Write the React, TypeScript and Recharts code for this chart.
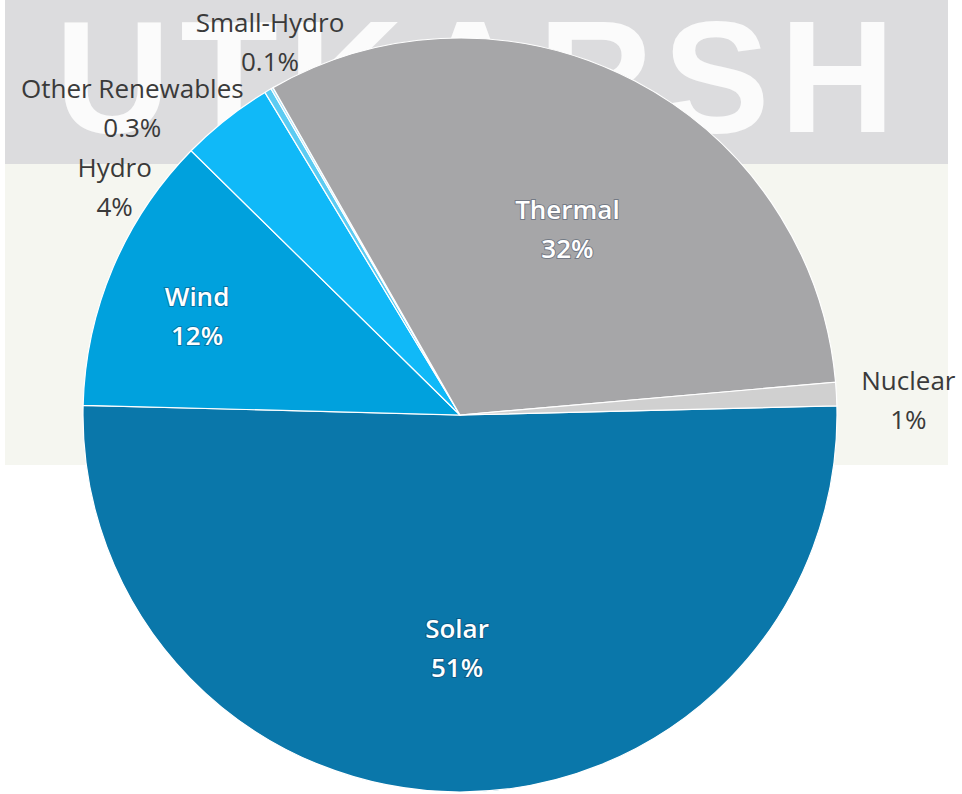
import React from "react";
import { PieChart, Pie, Cell } from "recharts";

const categories = ["Solar", "Wind", "Hydro", "Other Renewables", "Small-Hydro", "Thermal", "Nuclear"];
const shares = [51, 12, 4, 0.3, 0.1, 32, 1];
const colors = ["#0a77aa", "#00a1dd", "#10b9f8", "#5ccbf2", "#a8e2f8", "#a6a6a8", "#d0d0d0"];
const insideLabels = ["Solar", "Wind", "Thermal"];

const data = categories.map((name, i) => ({ name, value: shares[i] }));

// label placement relative to the slice's mid angle: angle delta (deg) and radius factor
const labelPlacement: Record<string, { da: number; k: number }> = {
  Solar: { da: -0.7, k: 0.618 },
  Wind: { da: 2.4, k: 0.745 },
  Hydro: { da: 18.2, k: 1.098 },
  "Other Renewables": { da: 16.3, k: 1.19 },
  "Small-Hydro": { da: -2.9, k: 1.11 },
  Thermal: { da: -2.35, k: 0.57 },
  Nuclear: { da: -1.3, k: 1.19 },
};

const RAD = Math.PI / 180;
const FONT = "'Open Sans', 'Noto Sans', sans-serif";

const renderLabel = (props: any) => {
  const { cx, cy, midAngle, outerRadius } = props;
  const name: string = props.name ?? props.payload?.name;
  const value: number = props.value ?? props.payload?.value;
  const p = labelPlacement[name] || { da: 0, k: 1.1 };
  const ang = (midAngle + p.da) * RAD;
  const r = outerRadius * p.k;
  const x = cx + Math.cos(-ang) * r;
  const y = cy + Math.sin(-ang) * r;
  const inside = insideLabels.includes(name);
  const spacing = 39;
  const b1 = y - spacing / 2 + 9.3;
  const common: any = {
    textAnchor: "middle",
    fontFamily: FONT,
    fontSize: 26,
    fill: inside ? "#ffffff" : "#3a3a3a",
    fontWeight: inside ? 600 : 400,
  };
  if (inside) {
    common.stroke = "rgba(20,40,70,0.35)";
    common.strokeWidth = 2;
    common.paintOrder = "stroke";
  }
  return (
    <g key={`lbl-${name}`}>
      <text x={x} y={b1} {...common}>{name}</text>
      <text x={x} y={b1 + spacing} {...common}>{`${value}%`}</text>
    </g>
  );
};

export default function App() {
  return (
    <div style={{ position: "absolute", left: 0, top: 0, width: 962, height: 794, background: "#ffffff", overflow: "hidden" }}>
      <svg width={962} height={794} style={{ position: "absolute", left: 0, top: 0 }}>
        <rect x={5} y={0} width={943} height={164} fill="#dcdcde" />
        <rect x={5} y={164} width={943} height={301} fill="#f5f6f0" />
        <text
          x={55}
          y={132}
          fontFamily="'Liberation Sans', Arial, sans-serif"
          fontWeight={700}
          fontSize={160}
          fill="#fbfbfb"
          textLength={840}
          lengthAdjust="spacing"
        >
          UTKARSH
        </text>
      </svg>
      <div style={{ position: "absolute", left: 0, top: 0 }}>
        <PieChart width={962} height={794} margin={{ top: 0, right: 0, bottom: 0, left: 0 }}>
          <Pie
            data={data}
            dataKey="value"
            nameKey="name"
            cx={460}
            cy={415}
            outerRadius={377}
            startAngle={1.4}
            endAngle={-358.6}
            label={renderLabel}
            labelLine={false}
            isAnimationActive={false}
            stroke="#ffffff"
            strokeWidth={1.2}
          >
            {data.map((d, i) => (
              <Cell key={d.name} fill={colors[i]} />
            ))}
          </Pie>
        </PieChart>
      </div>
    </div>
  );
}
